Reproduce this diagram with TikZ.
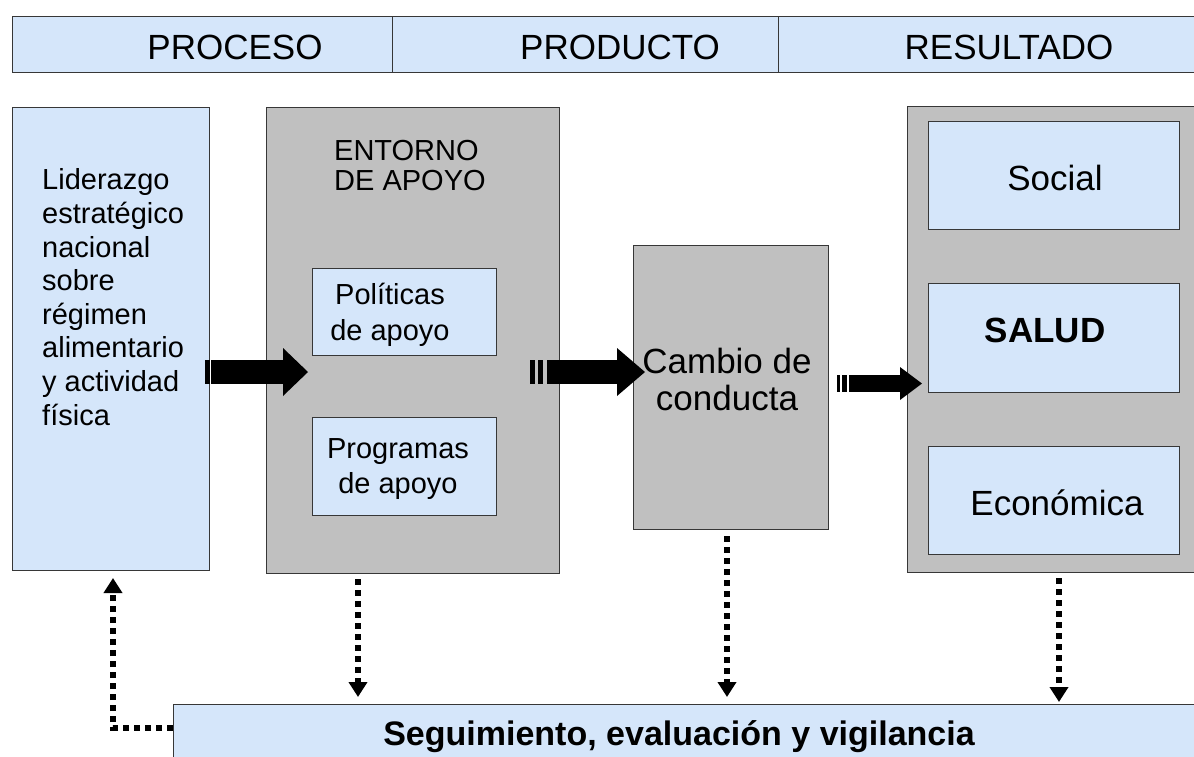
\documentclass[tikz,border=0pt]{standalone}
\usepackage{fontspec}
\setmainfont{Liberation Sans}
\usetikzlibrary{arrows.meta,calc}
\definecolor{boxblue}{RGB}{213,230,250}
\definecolor{boxgray}{RGB}{192,192,192}
\definecolor{edgecol}{RGB}{55,55,55}
\newcommand{\fs}[2]{\fontsize{#1pt}{#2pt}\selectfont}
\begin{document}
\begin{tikzpicture}[x=1pt,y=-1pt,
  bluebox/.style={draw=edgecol, line width=1pt, fill=boxblue, inner sep=0pt, anchor=north west},
  graybox/.style={draw=edgecol, line width=1pt, fill=boxgray, inner sep=0pt, anchor=north west},
  txt/.style={inner sep=0pt, text=black},
  fat/.style={fill=black, draw=none},
  dotline/.style={line width=6pt, dash pattern=on 6pt off 5pt, -{Triangle[width=18pt,length=15pt]}}
]
\useasboundingbox (0,0) rectangle (1194,756);
\fill[white] (0,0) rectangle (1194,756);

% header
\node[bluebox, minimum width=380pt, minimum height=56pt] (h1) at (12,16) {};
\node[bluebox, minimum width=386pt, minimum height=56pt] (h2) at (392,16) {};
\node[bluebox, minimum width=420pt, minimum height=56pt] (h3) at (778,16) {};
\node[txt, anchor=base, font=\fs{35}{40}] (t1) at (235,59) {PROCESO};
\node[txt, anchor=base, font=\fs{35}{40}] (t2) at (620,59) {PRODUCTO};
\node[txt, anchor=base, font=\fs{35}{40}] (t3) at (1009,59) {RESULTADO};

% boxes
\node[bluebox, minimum width=197pt, minimum height=463pt] (left) at (12,107) {};
\node[graybox, minimum width=293pt, minimum height=466pt] (entorno) at (266,107) {};
\node[bluebox, minimum width=184pt, minimum height=87pt] (pol) at (312,268) {};
\node[bluebox, minimum width=184pt, minimum height=98pt] (prog) at (312,417) {};
\node[graybox, minimum width=195pt, minimum height=284pt] (cambio) at (633,245) {};
\node[graybox, minimum width=292pt, minimum height=466pt] (right) at (907,106) {};
\node[bluebox, minimum width=251pt, minimum height=108pt] (social) at (928,121) {};
\node[bluebox, minimum width=251pt, minimum height=109pt] (salud) at (928,283) {};
\node[bluebox, minimum width=251pt, minimum height=108pt] (econ) at (928,446) {};
\node[bluebox, minimum width=1030pt, minimum height=60pt] (bottom) at (173,704) {};

% texts (base anchor = baseline of last line)
\node[txt, anchor=base west, align=left, font=\fs{29}{33.6}] (lefttext) at (42,425) {Liderazgo\\estratégico\\nacional\\sobre\\régimen\\alimentario\\y actividad\\física};
\node[txt, anchor=base west, align=left, font=\fs{29}{30}] (enttext) at (334,190) {ENTORNO\\DE APOYO};
\node[txt, anchor=base, align=center, font=\fs{29}{36}] (poltext) at (390,340) {Políticas\\de apoyo};
\node[txt, anchor=base, align=center, font=\fs{29}{35}] (progtext) at (398,493) {Programas\\de apoyo};
\node[txt, anchor=base, align=center, font=\fs{35}{37}] (camtext) at (727,410) {Cambio de\\conducta};
\node[txt, anchor=base, font=\fs{35}{40}] (soctext) at (1055,190) {Social};
\node[txt, anchor=base, font=\fs{35}{40}\bfseries] (saltext) at (1045,342) {SALUD};
\node[txt, anchor=base, font=\fs{35}{40}] (ecotext) at (1057,515) {Económica};
\node[txt, anchor=base, font=\fs{34}{40}\bfseries] (bottext) at (679,745) {Seguimiento, evaluación y vigilancia};

% fat arrows
\fill[fat] (205,360) rectangle (210,384);
\fill[fat] (211,360) rectangle (284,384);
\fill[fat] (283,348) -- (308,372) -- (283,396) -- cycle;

\fill[fat] (530,360) rectangle (535,384);
\fill[fat] (538,360) rectangle (543,384);
\fill[fat] (547,360) rectangle (618,384);
\fill[fat] (617,348) -- (645,372) -- (617,396) -- cycle;

\fill[fat] (837,375) rectangle (840,392);
\fill[fat] (842,375) rectangle (847,392);
\fill[fat] (849,375) rectangle (901,392);
\fill[fat] (900,367) -- (922,383.5) -- (900,400) -- cycle;

% dotted arrows
\draw[dotline, shorten <=5pt, shorten >=7pt] (358,0 |- entorno.south) -- (358,0 |- bottom.north);
\draw[dotline, shorten <=6pt, shorten >=7pt] (727,0 |- cambio.south) -- (727,0 |- bottom.north);
\draw[dotline, shorten <=5pt, shorten >=2pt] (1059,0 |- right.south) -- (1059,0 |- bottom.north);
\coordinate (ret) at (113,728);
\draw[dotline, shorten >=7pt] (bottom.west |- ret) -- (ret) -- (ret |- left.south);
\end{tikzpicture}
\end{document}
